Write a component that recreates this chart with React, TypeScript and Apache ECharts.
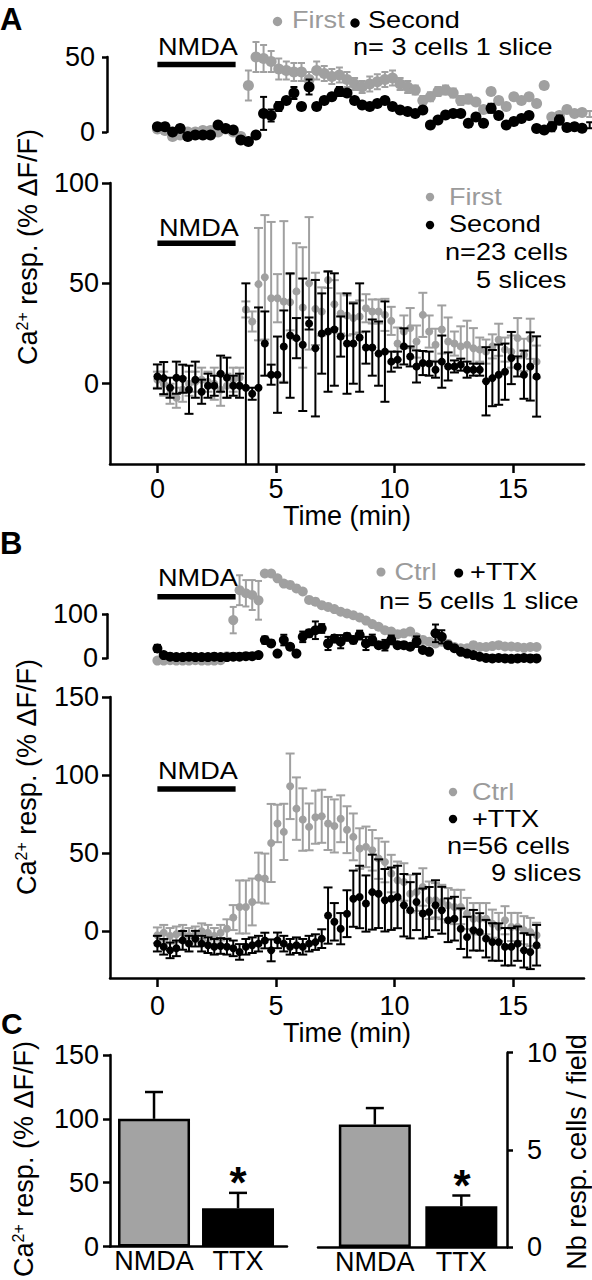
import React, { useEffect, useRef } from 'react';
import * as echarts from 'echarts';

const FONT = '"Liberation Sans", Arial, Helvetica, sans-serif';
const GRAY = '#a0a0a0';
const GRAY_TEXT = '#9b9b9b';
const BAR_GRAY = '#a3a3a3';

// ---------- sampling intervals (min) ----------
const A1_STEP = 0.32;
const STEP = 16 / 60;

// ---------- NMDA application (min) ----------
const NMDA_START = 0;
const NMDA_END = 3.3;

// ---------- Panel A, top (single example, 3 cells) ----------
const A1_FIRST = [2, 1, -3, -2, 0, 0, 1, 1, 0, 2, 0, -3, 31, 50, 49, 47, 42, 41, 40, 40, 35, 41, 39, 37, 38, 35, 32, 30, 32, 33.5, 35, 36, 32, 30, 28, 21, 23.5, 27, 28, 26, 21, 22, 20, 15, 27, 21, 17, 23.5, 21, 23.5, 19, 31, 10, 11, 15, 12.4, 13, 12];
const A1_FIRST_SEM = [2, 2, 2, 2, 2, 2, 2, 2, 2, 2, 2, 2, 10, 10, 9, 7, 7, 6, 6, 6, 5, 6, 5, 5, 5, 5, 4, 4, 5, 5, 5, 5, 4, 4, 3, 3, 3, 3, 3, 3, 3, 3, 2, 2, 2, 2, 2, 2, 2, 2, 2, 2, 2, 2, 2, 2, 2, 2];
const A1_SECOND = [3.5, 3.5, 0, 2.4, -3, -2, -2, -2, 4.7, 2.4, 1.3, -5.3, -6.4, -2, 12.4, 11, 17, 21, 26, 17, 30, 17, 21, 23.5, 27, 26, 21, 18, 17, 19, 21, 17, 14.7, 13.6, 12.4, 14.7, 4.7, 8, 11.3, 12.4, 12.4, 5.8, 10, 5.8, 15.8, 11, 4.7, 7, 9, 11, 2.4, 1.3, 3.5, 8, 3, 3.5, 2.5, 4.5];
const A1_SECOND_SEM = [2, 2, 2, 2, 2, 2, 2, 2, 2, 2, 2, 2, 2, 2, 11, 4, 3, 2, 4, 2, 5, 2, 2, 2, 3, 2, 2, 2, 2, 2, 2, 2, 2, 2, 2, 2, 2, 2, 2, 2, 2, 2, 2, 2, 3, 2, 2, 2, 2, 2, 2, 2, 3, 3, 2, 2, 2, 2];

// ---------- Panel A, bottom (n=23 cells) ----------
const A2_FIRST = [2, 0, -5, -7, -3, 0, 1, 2, 1, 0, -3, -1, 2, 3, 37, 31, 49.6, 53, 42.6, 42.6, 41, 40.6, 46, 38, 50, 37.3, 36, 51.7, 39.6, 35, 34, 32.7, 33.5, 37.6, 36, 36, 34.3, 31.3, 20, 26, 27.7, 21, 34.3, 26, 19.4, 27, 21, 20, 18.6, 19.4, 17.7, 17, 16, 18.6, 21.9, 17, 16, 22.7, 14.4, 22.4, 11];
const A2_FIRST_SEM = [4, 6, 5, 5, 6, 6, 5, 6, 5, 8, 8, 6, 6, 5, 4, 5, 28, 31, 38, 12, 40, 14, 24, 30, 33, 18, 12, 4, 12, 10, 10, 8, 8, 7, 6, 6, 8, 7, 8, 8, 10, 8, 11, 8, 8, 12, 12, 6, 10, 12, 10, 6, 6, 6, 8, 6, 8, 10, 8, 10, 8];
const A2_SECOND = [3.6, 2.8, -2, 3, 2.5, -3, 2, -4, -1, -1, 5, 3, -1, -1, -2, -5, -2, 20, 4.5, 4.5, 18.5, 24, 22.7, 19.4, 30, 17.7, 25, 26, 27, 23.5, 20, 20, 23, 18, 18, 15, 16, 11, 12, 18.6, 13.6, 8.6, 10.3, 10, 7, 11, 8.6, 8.6, 9.5, 7, 7, 7, 1.2, 2.8, 4.5, 6, 12.8, 8.6, 4.5, 8.6, 3.6];
const A2_SECOND_SEM = [6, 8, 5, 8, 7, 12, 9, 6, 6, 5, 9, 10, 5, 6, 52, 3, 40, 16, 5, 19, 18, 31, 10, 33, 3, 34, 20, 30, 28, 10, 25, 20, 27, 8, 14, 16, 25, 5, 4, 9, 5, 8, 6, 6, 4, 13, 7, 3, 3, 4, 3, 3, 17, 14, 15, 14, 13, 5, 12, 17, 20];

// ---------- Panel B, top (single example, 5 cells) ----------
const B1_CTRL = [-5, -5, -4, -5, -5, -5, -4, -5, -5, -5, -4, 5, 87, 155, 148, 144, 132, 193, 193, 182, 170, 167, 159, 152, 133, 129, 121, 117, 112, 106, 102, 98, 93, 86, 78, 72, 64, 61, 55, 57, 61, 48, 42, 38, 34, 38, 33, 26, 23, 23, 30, 26, 26, 28, 30, 27, 27, 26, 24, 26, 26];
const B1_CTRL_SEM = [3, 3, 3, 3, 3, 3, 3, 3, 3, 3, 3, 3, 30, 34, 30, 34, 44, 3, 3, 3, 3, 3, 3, 3, 3, 3, 3, 3, 3, 3, 3, 3, 3, 3, 3, 3, 3, 3, 3, 3, 3, 3, 3, 3, 3, 3, 3, 3, 3, 3, 3, 3, 3, 3, 3, 3, 3, 3, 3, 3, 3];
const B1_TTX = [22.7, 7.6, 4, 3, 3, 4, 3, 3, 3, 4, 3, 3, 4, 4, 5, 5, 7.6, 41.7, 34, 11, 41.7, 26.5, 11, 49, 57, 64, 68, 34, 45, 38, 49, 42, 53, 34, 42, 30, 30, 42, 30, 30, 26.5, 38, 19, 15, 57, 49, 30, 23, 15, 11, 7.6, 3.8, 1, 0, 1, 0, -1, 0, 1, 0, 0];
const B1_TTX_SEM = [8, 3, 3, 3, 3, 3, 3, 3, 3, 3, 3, 3, 3, 3, 3, 3, 3, 8, 6, 3, 12, 6, 3, 12, 8, 20, 10, 15, 8, 15, 8, 8, 10, 15, 12, 6, 12, 10, 6, 6, 6, 12, 4, 4, 20, 15, 6, 4, 3, 3, 3, 3, 3, 3, 3, 3, 3, 3, 3, 3, 3];

// ---------- Panel B, bottom (n=56 cells) ----------
const B2_CTRL = [-2.6, -1, -3, -2, -1, -3, -2, 0, -1, -3, -1, 1.6, 8.7, 15.5, 15.5, 18.7, 34.3, 33.7, 56.5, 69, 63.6, 92.8, 78.5, 71.5, 66.8, 73, 73.6, 69, 67.4, 72, 65, 60.4, 52.9, 54, 51.8, 46.5, 44.3, 36.9, 32.6, 31.5, 24, 25, 28.3, 19.8, 19.8, 18.7, 16.6, 15.5, 15.5, 11.3, 8, 8, 8, 4.8, 2.7, 7, 2.7, 2.7, 0.6, -0.5, -2.6];
const B2_CTRL_SEM = [5, 5, 5, 5, 5, 5, 5, 5, 5, 5, 5, 6, 8, 17, 17, 15, 16, 16, 25, 12, 18, 21, 20, 20, 15, 17, 17, 17, 17, 15, 15, 15, 13, 13, 13, 13, 13, 12, 12, 12, 12, 12, 12, 12, 11, 11, 11, 11, 11, 10, 10, 10, 10, 9, 9, 9, 9, 9, 9, 9, 8];
const B2_TTX = [-8, -10, -12.3, -11, -5.9, -8, -4.8, -8, -9, -10, -9.5, -10, -11, -13.3, -10, -9, -8, -6, -12.3, -5.9, -8, -10, -9, -10, -8, -7, -4.8, 10, 6, 1.6, 11.2, 20.8, 21.9, 17.7, 25, 24, 19.8, 20.8, 21.9, 16.6, 13.4, 18.7, 11.3, 12.3, 16.6, 13.4, 7, 8, 1.6, -3.8, 0.6, -0.5, -4.8, -6.9, -7, -10, -10, -8, -12.3, -13.3, -9];
const B2_TTX_SEM = [5, 5, 5, 5, 6, 5, 5, 5, 5, 5, 5, 5, 5, 5, 5, 5, 5, 5, 7, 5, 5, 5, 5, 5, 5, 5, 6, 18, 12, 10, 15, 18, 20, 18, 24, 22, 20, 20, 20, 20, 18, 18, 16, 16, 16, 15, 14, 14, 13, 13, 13, 12, 12, 12, 12, 12, 12, 11, 11, 11, 13];

// ---------- Panel C ----------
const C_GROUPS = ['NMDA', 'TTX'];
const C_RESP = [100, 30];
const C_RESP_SEM = [21, 12];
const C_CELLS = [6.3, 2.1];
const C_CELLS_SEM = [0.85, 0.55];

// ---------- tick values ----------
const TIME_TICKS = [0, 5, 10, 15];
const A2_Y_TICKS = [0, 50, 100];
const B2_Y_TICKS = [0, 50, 100, 150];

const AXIS_LINE = { show: true, onZero: false, lineStyle: { color: '#000', width: 2.5 } };
const tick = (len: number, extra: any = {}) => ({ show: true, inside: false, length: len, lineStyle: { color: '#000', width: 2.5 }, ...extra });
const LABEL = { color: '#000', fontSize: 27, fontFamily: FONT };

function errRender(color: string, cap: number, lw: number, yMin: number | null, upperOnly = false) {
  return (params: any, api: any) => {
    const x = api.value(0);
    const v = api.value(1);
    const e = api.value(2);
    if (!(e > 0)) return null;
    let lowV = upperOnly ? v : v - e;
    let clipped = false;
    if (yMin !== null && lowV < yMin) { lowV = yMin; clipped = true; }
    const hi = api.coord([x, v + e]);
    const lo = api.coord([x, lowV]);
    const st = { stroke: color, lineWidth: lw };
    const children: any[] = [
      { type: 'line', shape: { x1: hi[0], y1: hi[1], x2: lo[0], y2: lo[1] }, style: st },
      { type: 'line', shape: { x1: hi[0] - cap, y1: hi[1], x2: hi[0] + cap, y2: hi[1] }, style: st },
    ];
    if (!upperOnly && !clipped) {
      children.push({ type: 'line', shape: { x1: lo[0] - cap, y1: lo[1], x2: lo[0] + cap, y2: lo[1] }, style: st });
    }
    return { type: 'group', children };
  };
}

function panelSeries(ax: number, step: number, gv: number[], ge: number[], bv: number[], be: number[], size: number, cap: number, yMin: number | null, nmdaLevel: number) {
  const withErr = (vals: number[], sems: number[]) => vals.map((v, i) => [i * step, v, sems[i]]);
  const pts = (vals: number[]) => vals.map((v, i) => [i * step, v]);
  return [
    { type: 'custom', xAxisIndex: ax, yAxisIndex: ax, renderItem: errRender(GRAY, cap, 2, yMin), data: withErr(gv, ge), z: 2, silent: true },
    { type: 'scatter', xAxisIndex: ax, yAxisIndex: ax, symbol: 'circle', symbolSize: size, itemStyle: { color: GRAY, opacity: 1 }, data: pts(gv), z: 3, silent: true },
    { type: 'custom', xAxisIndex: ax, yAxisIndex: ax, renderItem: errRender('#000', cap, 2, yMin), data: withErr(bv, be), z: 4, silent: true },
    { type: 'scatter', xAxisIndex: ax, yAxisIndex: ax, symbol: 'circle', symbolSize: size, itemStyle: { color: '#000', opacity: 1 }, data: pts(bv), z: 5, silent: true },
    { type: 'line', xAxisIndex: ax, yAxisIndex: ax, data: [[NMDA_START, nmdaLevel], [NMDA_END, nmdaLevel]], symbol: 'none', lineStyle: { color: '#000', width: 5.5 }, z: 6, silent: true },
  ];
}

function txt(text: string, x: number, y: number, o: any = {}) {
  const align = o.align || 'left';
  const size = o.size || 24;
  return {
    type: 'text', x, y, silent: true, rotation: o.rotation || 0,
    scaleX: o.scaleX || 1,
    style: {
      text, fill: o.fill || '#000', fontSize: size, fontFamily: FONT, fontWeight: o.weight || 'normal',
      align, textAlign: align, verticalAlign: 'middle', textVerticalAlign: 'middle', rich: o.rich,
    },
  };
}
// legend / annotation text: wide glyphs as in the figure
const ann = (text: string, x: number, y: number, o: any = {}) => txt(text, x, y, { size: 24, scaleX: 1.13, ...o });
const dot = (cx: number, cy: number, r: number, fill: string) => ({ type: 'circle', silent: true, shape: { cx, cy, r }, style: { fill } });

const CA_RICH = {
  a: { fontSize: 27, fontFamily: FONT, fill: '#000' },
  b: { fontSize: 16, fontFamily: FONT, fill: '#000', verticalAlign: 'top' },
};
const CA_LABEL = '{a|Ca}{b|2+}{a| resp. (% ΔF/F)}';

function buildOption() {
  const grids = [
    { left: 110, top: 27, width: 474, height: 135 },        // A top
    { left: 107, top: 57, width: 1, height: 75 },           // A top scale bar
    { left: 110, top: 183, width: 474, height: 281 },       // A bottom
    { left: 110, top: 566, width: 474, height: 105.6 },     // B top
    { left: 107, top: 614.3, width: 1, height: 44 },        // B top scale bar
    { left: 110, top: 697, width: 474, height: 281 },       // B bottom
    { left: 110, top: 1055, width: 177, height: 191.5 },    // C left
    { left: 318, top: 1052.7, width: 189, height: 194.3 },  // C right
  ].map((g) => ({ ...g, containLabel: false, outerBoundsMode: 'none' }));

  const hiddenX = (gi: number, min: number, max: number) => ({ gridIndex: gi, type: 'value', min, max, show: false });
  const hiddenY = (gi: number, min: number, max: number) => ({ gridIndex: gi, type: 'value', min, max, show: false });

  const timeAxis = (gi: number, labelMargin: number, nameGap: number) => ({
    gridIndex: gi, type: 'value', min: -2, max: 18,
    axisLine: AXIS_LINE,
    axisTick: tick(9, { customValues: TIME_TICKS }),
    axisLabel: { ...LABEL, margin: labelMargin, customValues: TIME_TICKS },
    splitLine: { show: false },
    name: 'Time (min)', nameLocation: 'middle', nameGap, nameTextStyle: { ...LABEL },
  });

  const scaleBarY = (gi: number, max: number, margin: number) => ({
    gridIndex: gi, type: 'value', min: 0, max, interval: max,
    axisLine: AXIS_LINE, axisTick: tick(5), axisLabel: { ...LABEL, margin },
    splitLine: { show: false },
  });

  const catLabel = (v: number) => C_GROUPS[Math.round(v) - 1] ?? '';

  const xAxis = [
    hiddenX(0, -2, 18),
    hiddenX(1, 0, 1),
    timeAxis(2, 11, 30),
    hiddenX(3, -2, 18),
    hiddenX(4, 0, 1),
    timeAxis(5, 14, 38),
    {
      gridIndex: 6, type: 'value', min: 0.476, max: 2.583,
      axisLine: AXIS_LINE, axisTick: { show: false }, splitLine: { show: false },
      axisLabel: { ...LABEL, margin: 1, customValues: [1, 2], formatter: catLabel },
    },
    {
      gridIndex: 7, type: 'value', min: 0.343, max: 2.528,
      axisLine: AXIS_LINE, axisTick: { show: false }, splitLine: { show: false },
      axisLabel: { ...LABEL, margin: 1, customValues: [1, 2], formatter: catLabel },
    },
  ];

  const yAxis = [
    hiddenY(0, -20, 70),
    scaleBarY(1, 50, 12),
    {
      gridIndex: 2, type: 'value', min: -40, max: 100,
      axisLine: AXIS_LINE, axisTick: tick(8, { customValues: A2_Y_TICKS }),
      axisLabel: { ...LABEL, margin: 11, customValues: A2_Y_TICKS }, splitLine: { show: false },
    },
    hiddenY(3, -30, 210),
    scaleBarY(4, 100, 9),
    {
      gridIndex: 5, type: 'value', min: -30, max: 150,
      axisLine: AXIS_LINE, axisTick: tick(8, { customValues: B2_Y_TICKS }),
      axisLabel: { ...LABEL, margin: 11, customValues: B2_Y_TICKS }, splitLine: { show: false },
    },
    {
      gridIndex: 6, type: 'value', min: 0, max: 150, interval: 50,
      axisLine: AXIS_LINE, axisTick: tick(7), axisLabel: { ...LABEL, margin: 11 }, splitLine: { show: false },
    },
    {
      gridIndex: 7, type: 'value', min: 0, max: 10, interval: 5, position: 'right',
      axisLine: AXIS_LINE, axisTick: tick(6), axisLabel: { ...LABEL, margin: 20 }, splitLine: { show: false },
    },
  ];

  const barSeries = (ax: number, vals: number[], sems: number[]) => [
    {
      type: 'bar', xAxisIndex: ax, yAxisIndex: ax, barWidth: 72, silent: true, z: 2,
      itemStyle: { borderColor: '#000', borderWidth: 2.5 },
      data: vals.map((v, i) => ({ value: [i + 1, v], itemStyle: { color: i === 0 ? BAR_GRAY : '#000' } })),
    },
    {
      type: 'custom', xAxisIndex: ax, yAxisIndex: ax, silent: true, z: 3,
      renderItem: errRender('#000', 9, 2.5, null, true),
      data: vals.map((v, i) => [i + 1, v, sems[i]]),
    },
  ];

  const series = [
    ...panelSeries(0, A1_STEP, A1_FIRST, A1_FIRST_SEM, A1_SECOND, A1_SECOND_SEM, 11, 3.5, null, 45),
    ...panelSeries(2, STEP, A2_FIRST, A2_FIRST_SEM, A2_SECOND, A2_SECOND_SEM, 8, 4.5, -40, 70),
    ...panelSeries(3, STEP, B1_CTRL, B1_CTRL_SEM, B1_TTX, B1_TTX_SEM, 10, 3.5, null, 140),
    ...panelSeries(5, STEP, B2_CTRL, B2_CTRL_SEM, B2_TTX, B2_TTX_SEM, 8, 4.5, null, 91),
    ...barSeries(6, C_RESP, C_RESP_SEM),
    ...barSeries(7, C_CELLS, C_CELLS_SEM),
  ];

  const graphic = [
    txt('A', 0, 19, { size: 31, weight: 'bold' }),
    txt('B', 0, 543, { size: 31, weight: 'bold' }),
    txt('C', 1, 1023, { size: 30, weight: 'bold' }),

    ann('NMDA', 158, 47),
    ann('NMDA', 159, 228),
    ann('NMDA', 158, 578),
    ann('NMDA', 158, 771),

    dot(277.5, 21.5, 4.7, GRAY), ann('First', 292, 20, { fill: GRAY_TEXT }),
    dot(355, 23, 4.7, '#000'), ann('Second', 368, 20),
    ann('n= 3 cells 1 slice', 353, 47),

    dot(430, 197, 4.2, GRAY), ann('First', 449, 197, { fill: GRAY_TEXT }),
    dot(430, 225, 4.2, '#000'), ann('Second', 449, 224),
    ann('n=23 cells', 445, 252),
    ann('5 slices', 476, 280),

    dot(381, 572, 4.5, GRAY), ann('Ctrl', 394.5, 572, { fill: GRAY_TEXT }),
    dot(458.7, 573, 4.5, '#000'), ann('+TTX', 470, 572),
    ann('n= 5 cells 1 slice', 379, 601),

    dot(453, 792, 4.2, GRAY), ann('Ctrl', 472, 792, { fill: GRAY_TEXT }),
    dot(453, 819, 4.2, '#000'), ann('+TTX', 472, 819),
    ann('n=56 cells', 447, 846),
    ann('9 slices', 491, 873),

    txt(CA_LABEL, 28, 247, { align: 'center', rotation: Math.PI / 2, rich: CA_RICH, size: 27 }),
    txt(CA_LABEL, 27, 777, { align: 'center', rotation: Math.PI / 2, rich: CA_RICH, size: 27 }),
    txt(CA_LABEL, 24, 1159, { align: 'center', rotation: Math.PI / 2, rich: CA_RICH, size: 27 }),
    txt('Nb resp. cells / field', 577, 1152, { align: 'center', rotation: Math.PI / 2, size: 27 }),

    txt('*', 238, 1182, { align: 'center', size: 44, weight: 'bold' }),
    txt('*', 462, 1185, { align: 'center', size: 44, weight: 'bold' }),
  ];

  return {
    animation: false,
    backgroundColor: '#fff',
    textStyle: { fontFamily: FONT },
    grid: grids,
    xAxis,
    yAxis,
    series,
    graphic,
  };
}

export default function App() {
  const ref = useRef<HTMLDivElement>(null);
  useEffect(() => {
    if (!ref.current) return;
    const chart = echarts.init(ref.current, null, { renderer: 'svg' });
    chart.setOption(buildOption() as any);
    return () => chart.dispose();
  }, []);
  return (
    <div
      ref={ref}
      style={{ position: 'absolute', left: 0, top: 0, width: 592, height: 1280, background: '#fff' }}
    />
  );
}
